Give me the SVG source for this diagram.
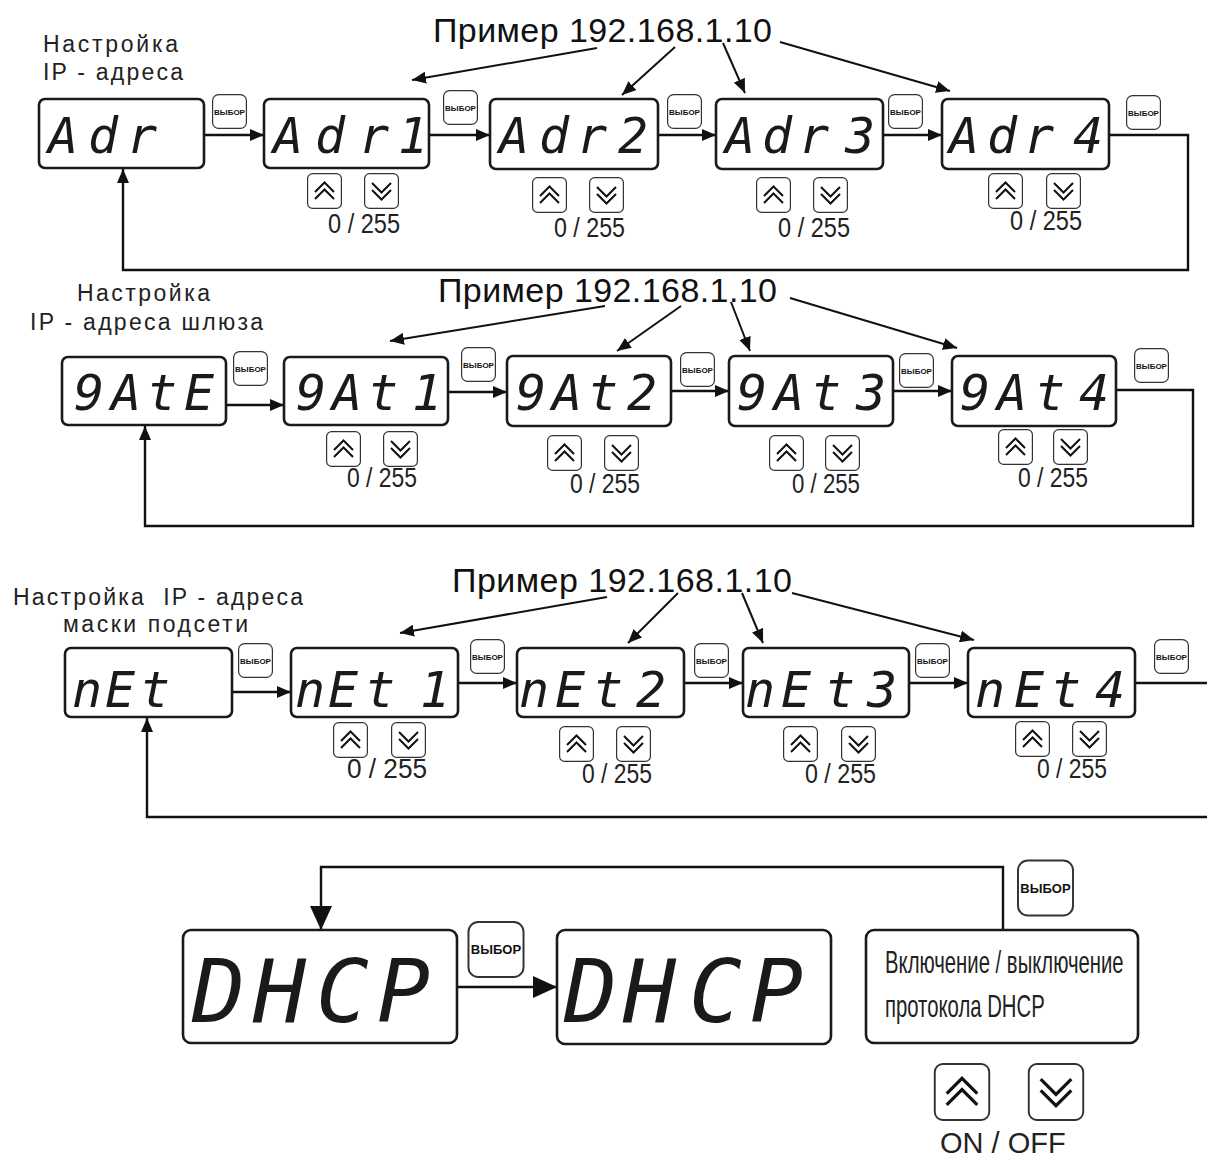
<svg xmlns="http://www.w3.org/2000/svg" xmlns:xlink="http://www.w3.org/1999/xlink" width="1207" height="1160" viewBox="0 0 1207 1160">
<style>
.disp{fill:#fff;stroke:#1a1a1a;stroke-width:2.6}
.seg{font-family:"DejaVu Sans Mono",monospace;font-style:oblique;fill:#1a1a1a;font-size:50px}
.big{font-size:88px}
.lbl{font-family:"Liberation Sans",Arial,sans-serif;font-size:23px;fill:#222}
.title{font-family:"Liberation Sans",Arial,sans-serif;font-size:34px;fill:#111}
.num{font-family:"Liberation Sans",Arial,sans-serif;font-size:28px;fill:#222}
.info{font-family:"Liberation Sans",Arial,sans-serif;font-size:31px;fill:#222}
.con{fill:none;stroke:#111;stroke-width:2.4}
.pt{fill:none;stroke:#111;stroke-width:2}
</style>
<defs>
<marker id="ah" markerUnits="userSpaceOnUse" markerWidth="16" markerHeight="12" refX="14" refY="6" orient="auto"><path d="M0,0 L14,6 L0,12 z" fill="#111"/></marker>
<marker id="ahb" markerUnits="userSpaceOnUse" markerWidth="26" markerHeight="22" refX="24" refY="11" orient="auto"><path d="M0,0 L24,11 L0,22 z" fill="#111"/></marker>
<symbol id="sel" viewBox="0 0 35 35"><rect x="0.6" y="0.6" width="33.8" height="33.8" rx="6" fill="#fff" stroke="#333" stroke-width="1.2"/><text x="17.5" y="20.5" text-anchor="middle" font-family="Liberation Sans, Arial, sans-serif" font-weight="bold" font-size="8" fill="#111">ВЫБОР</text></symbol>
<symbol id="up" viewBox="0 0 35 36"><rect x="0.6" y="0.6" width="33.8" height="34.8" rx="5" fill="#fff" stroke="#333" stroke-width="1.2"/><polyline points="8,19 17.5,9.5 27,19" fill="none" stroke="#111" stroke-width="2"/><polyline points="8,26 17.5,16.5 27,26" fill="none" stroke="#111" stroke-width="2"/></symbol>
<symbol id="dn" viewBox="0 0 35 36"><rect x="0.6" y="0.6" width="33.8" height="34.8" rx="5" fill="#fff" stroke="#333" stroke-width="1.2"/><polyline points="8,10 17.5,19.5 27,10" fill="none" stroke="#111" stroke-width="2"/><polyline points="8,17 17.5,26.5 27,17" fill="none" stroke="#111" stroke-width="2"/></symbol>
</defs>
<rect width="1207" height="1160" fill="#fff"/>

<!-- labels and titles -->
<g id="labels">
<text class="lbl" x="43" y="52" textLength="135">Настройка</text>
<text class="lbl" x="43" y="80" textLength="140">IP - адреса</text>
<text class="title" x="433" y="42" textLength="339">Пример 192.168.1.10</text>
<text class="lbl" x="77" y="301" textLength="133">Настройка</text>
<text class="lbl" x="30" y="330" textLength="233">IP - адреса шлюза</text>
<text class="title" x="438" y="302" textLength="339">Пример 192.168.1.10</text>
<text class="lbl" x="13" y="605" textLength="290" xml:space="preserve">Настройка  IP - адреса</text>
<text class="lbl" x="63" y="632" textLength="185">маски подсети</text>
<text class="title" x="452" y="592" textLength="340">Пример 192.168.1.10</text>
</g>

<!-- connectors -->
<g id="connectors">
<line class="con" x1="204" y1="135" x2="264" y2="135" marker-end="url(#ah)"/>
<line class="con" x1="429" y1="135" x2="490" y2="135" marker-end="url(#ah)"/>
<line class="con" x1="658" y1="135" x2="716" y2="135" marker-end="url(#ah)"/>
<line class="con" x1="883" y1="135" x2="942" y2="135" marker-end="url(#ah)"/>
<path class="con" d="M1109,135 H1188 V270 H123 V169" marker-end="url(#ah)"/>
<line class="pt" x1="597" y1="48" x2="412" y2="80" marker-end="url(#ah)"/>
<line class="pt" x1="675" y1="47" x2="622" y2="95" marker-end="url(#ah)"/>
<line class="pt" x1="723" y1="43" x2="745" y2="93" marker-end="url(#ah)"/>
<line class="pt" x1="780" y1="42" x2="950" y2="91" marker-end="url(#ah)"/>

<line class="con" x1="226" y1="405" x2="284" y2="405" marker-end="url(#ah)"/>
<line class="con" x1="448" y1="392" x2="507" y2="392" marker-end="url(#ah)"/>
<line class="con" x1="671" y1="391" x2="729" y2="391" marker-end="url(#ah)"/>
<line class="con" x1="893" y1="391" x2="952" y2="391" marker-end="url(#ah)"/>
<path class="con" d="M1116,390 H1193 V526 H145 V426" marker-end="url(#ah)"/>
<line class="pt" x1="605" y1="306" x2="390" y2="341" marker-end="url(#ah)"/>
<line class="pt" x1="681" y1="306" x2="617" y2="351" marker-end="url(#ah)"/>
<line class="pt" x1="731" y1="302" x2="750" y2="351" marker-end="url(#ah)"/>
<line class="pt" x1="790" y1="298" x2="957" y2="348" marker-end="url(#ah)"/>

<line class="con" x1="232" y1="692" x2="291" y2="692" marker-end="url(#ah)"/>
<line class="con" x1="458" y1="683" x2="517" y2="683" marker-end="url(#ah)"/>
<line class="con" x1="684" y1="683" x2="743" y2="683" marker-end="url(#ah)"/>
<line class="con" x1="909" y1="683" x2="968" y2="683" marker-end="url(#ah)"/>
<line class="con" x1="1135" y1="683" x2="1207" y2="683"/>
<path class="con" d="M1207,817 H147 V718" marker-end="url(#ah)"/>
<line class="pt" x1="607" y1="597" x2="400" y2="633" marker-end="url(#ah)"/>
<line class="pt" x1="678" y1="593" x2="628" y2="643" marker-end="url(#ah)"/>
<line class="pt" x1="742" y1="593" x2="763" y2="643" marker-end="url(#ah)"/>
<line class="pt" x1="792" y1="593" x2="974" y2="640" marker-end="url(#ah)"/>

<line class="con" x1="457" y1="987" x2="557" y2="987" marker-end="url(#ahb)"/>
<path class="con" d="M1003,929 V867 H321 V930" marker-end="url(#ahb)"/>
</g>

<!-- row 1 -->
<g id="adr">
<rect class="disp" x="39" y="99" width="165" height="69" rx="6"/>
<text class="seg" x="48 88 127" y="153">Adr</text>
<use xlink:href="#sel" x="212" y="94" width="35" height="35"/>
</g>
<g id="adr1">
<rect class="disp" x="264" y="99" width="165" height="69" rx="6"/>
<text class="seg" x="273 315 359 398" y="153">Adr1</text>
<use xlink:href="#sel" x="443" y="90" width="35" height="35"/>
<use xlink:href="#up" x="307" y="173" width="35" height="36"/>
<use xlink:href="#dn" x="364" y="173" width="35" height="36"/>
<text class="num" x="328" y="233" textLength="72" lengthAdjust="spacingAndGlyphs">0 / 255</text>
</g>
<g id="adr2">
<rect class="disp" x="490" y="99" width="168" height="70" rx="6"/>
<text class="seg" x="499 539 577 618" y="153">Adr2</text>
<use xlink:href="#sel" x="667" y="94" width="35" height="35"/>
<use xlink:href="#up" x="532" y="177" width="35" height="36"/>
<use xlink:href="#dn" x="589" y="177" width="35" height="36"/>
<text class="num" x="554" y="237" textLength="71" lengthAdjust="spacingAndGlyphs">0 / 255</text>
</g>
<g id="adr3">
<rect class="disp" x="716" y="99" width="167" height="70" rx="6"/>
<text class="seg" x="725 762 799 845" y="153">Adr3</text>
<use xlink:href="#sel" x="888" y="94" width="35" height="35"/>
<use xlink:href="#up" x="756" y="177" width="35" height="36"/>
<use xlink:href="#dn" x="813" y="177" width="35" height="36"/>
<text class="num" x="778" y="237" textLength="72" lengthAdjust="spacingAndGlyphs">0 / 255</text>
</g>
<g id="adr4">
<rect class="disp" x="942" y="99" width="167" height="70" rx="6"/>
<text class="seg" x="949 987 1024 1073" y="153">Adr4</text>
<use xlink:href="#sel" x="1126" y="95" width="35" height="35"/>
<use xlink:href="#up" x="988" y="173" width="35" height="36"/>
<use xlink:href="#dn" x="1046" y="173" width="35" height="36"/>
<text class="num" x="1010" y="230" textLength="72" lengthAdjust="spacingAndGlyphs">0 / 255</text>
</g>

<!-- row 2 -->
<g id="gate">
<rect class="disp" x="62" y="357" width="164" height="68" rx="6"/>
<text class="seg" x="74 111 147 184" y="410">9AtE</text>
<use xlink:href="#sel" x="233" y="351" width="35" height="35"/>
</g>
<g id="gate1">
<rect class="disp" x="284" y="357" width="164" height="68" rx="6"/>
<text class="seg" x="296 332 368 412" y="410">9At1</text>
<use xlink:href="#sel" x="461" y="347" width="35" height="35"/>
<use xlink:href="#up" x="326" y="431" width="35" height="36"/>
<use xlink:href="#dn" x="383" y="431" width="35" height="36"/>
<text class="num" x="347" y="487" textLength="70" lengthAdjust="spacingAndGlyphs">0 / 255</text>
</g>
<g id="gate2">
<rect class="disp" x="507" y="356" width="164" height="70" rx="6"/>
<text class="seg" x="516 552 588 627" y="410">9At2</text>
<use xlink:href="#sel" x="680" y="352" width="35" height="35"/>
<use xlink:href="#up" x="547" y="435" width="35" height="36"/>
<use xlink:href="#dn" x="604" y="435" width="35" height="36"/>
<text class="num" x="570" y="493" textLength="70" lengthAdjust="spacingAndGlyphs">0 / 255</text>
</g>
<g id="gate3">
<rect class="disp" x="729" y="356" width="164" height="70" rx="6"/>
<text class="seg" x="737 774 811 856" y="410">9At3</text>
<use xlink:href="#sel" x="899" y="353" width="35" height="35"/>
<use xlink:href="#up" x="769" y="435" width="35" height="36"/>
<use xlink:href="#dn" x="825" y="435" width="35" height="36"/>
<text class="num" x="792" y="493" textLength="68" lengthAdjust="spacingAndGlyphs">0 / 255</text>
</g>
<g id="gate4">
<rect class="disp" x="952" y="356" width="164" height="70" rx="6"/>
<text class="seg" x="960 997 1035 1079" y="410">9At4</text>
<use xlink:href="#sel" x="1134" y="348" width="35" height="35"/>
<use xlink:href="#up" x="998" y="429" width="35" height="36"/>
<use xlink:href="#dn" x="1053" y="429" width="35" height="36"/>
<text class="num" x="1018" y="487" textLength="70" lengthAdjust="spacingAndGlyphs">0 / 255</text>
</g>

<!-- row 3 -->
<g id="net">
<rect class="disp" x="65" y="648" width="167" height="69" rx="6"/>
<text class="seg" x="72 105 140" y="707">nEt</text>
<use xlink:href="#sel" x="238" y="643" width="35" height="35"/>
</g>
<g id="net1">
<rect class="disp" x="291" y="648" width="167" height="69" rx="6"/>
<text class="seg" x="295 328 365 420" y="707">nEt1</text>
<use xlink:href="#sel" x="470" y="639" width="35" height="35"/>
<use xlink:href="#up" x="333" y="722" width="35" height="36"/>
<use xlink:href="#dn" x="391" y="722" width="35" height="36"/>
<text class="num" x="347" y="778" textLength="80" lengthAdjust="spacingAndGlyphs">0 / 255</text>
</g>
<g id="net2">
<rect class="disp" x="517" y="648" width="167" height="69" rx="6"/>
<text class="seg" x="519 555 593 636" y="707">nEt2</text>
<use xlink:href="#sel" x="694" y="643" width="35" height="35"/>
<use xlink:href="#up" x="559" y="726" width="35" height="36"/>
<use xlink:href="#dn" x="616" y="726" width="35" height="36"/>
<text class="num" x="582" y="783" textLength="70" lengthAdjust="spacingAndGlyphs">0 / 255</text>
</g>
<g id="net3">
<rect class="disp" x="743" y="648" width="166" height="69" rx="6"/>
<text class="seg" x="745 781 825 867" y="707">nEt3</text>
<use xlink:href="#sel" x="915" y="643" width="35" height="35"/>
<use xlink:href="#up" x="783" y="726" width="35" height="36"/>
<use xlink:href="#dn" x="841" y="726" width="35" height="36"/>
<text class="num" x="805" y="783" textLength="71" lengthAdjust="spacingAndGlyphs">0 / 255</text>
</g>
<g id="net4">
<rect class="disp" x="968" y="648" width="167" height="69" rx="6"/>
<text class="seg" x="975 1014 1051 1095" y="707">nEt4</text>
<use xlink:href="#sel" x="1154" y="639" width="35" height="35"/>
<use xlink:href="#up" x="1015" y="721" width="35" height="36"/>
<use xlink:href="#dn" x="1072" y="721" width="35" height="36"/>
<text class="num" x="1037" y="778" textLength="70" lengthAdjust="spacingAndGlyphs">0 / 255</text>
</g>

<!-- DHCP -->
<g id="dhcp">
<rect class="disp" x="183" y="930" width="274" height="113" rx="8"/>
<text class="seg big" x="192 253 316 377" y="1022">DHCP</text>
<use xlink:href="#sel" x="467" y="921" width="58" height="57"/>
</g>
<g id="dhcp-val">
<rect class="disp" x="557" y="930" width="274" height="114" rx="8"/>
<text class="seg big" x="564 623 689 750" y="1022">DHCP</text>
</g>
<g id="dhcp-info">
<rect class="disp" x="866" y="930" width="272" height="113" rx="8"/>
<text class="info" transform="translate(885,973) scale(0.655,1)">Включение / выключение</text>
<text class="info" transform="translate(885,1017) scale(0.655,1)">протокола DHCP</text>
<use xlink:href="#sel" x="1017" y="859" width="57" height="58"/>
<use xlink:href="#up" x="933" y="1063" width="58" height="58"/>
<use xlink:href="#dn" x="1027" y="1063" width="58" height="58"/>
<text x="940" y="1153" font-family="Liberation Sans, Arial, sans-serif" font-size="29" fill="#222">ON / OFF</text>
</g>
</svg>
